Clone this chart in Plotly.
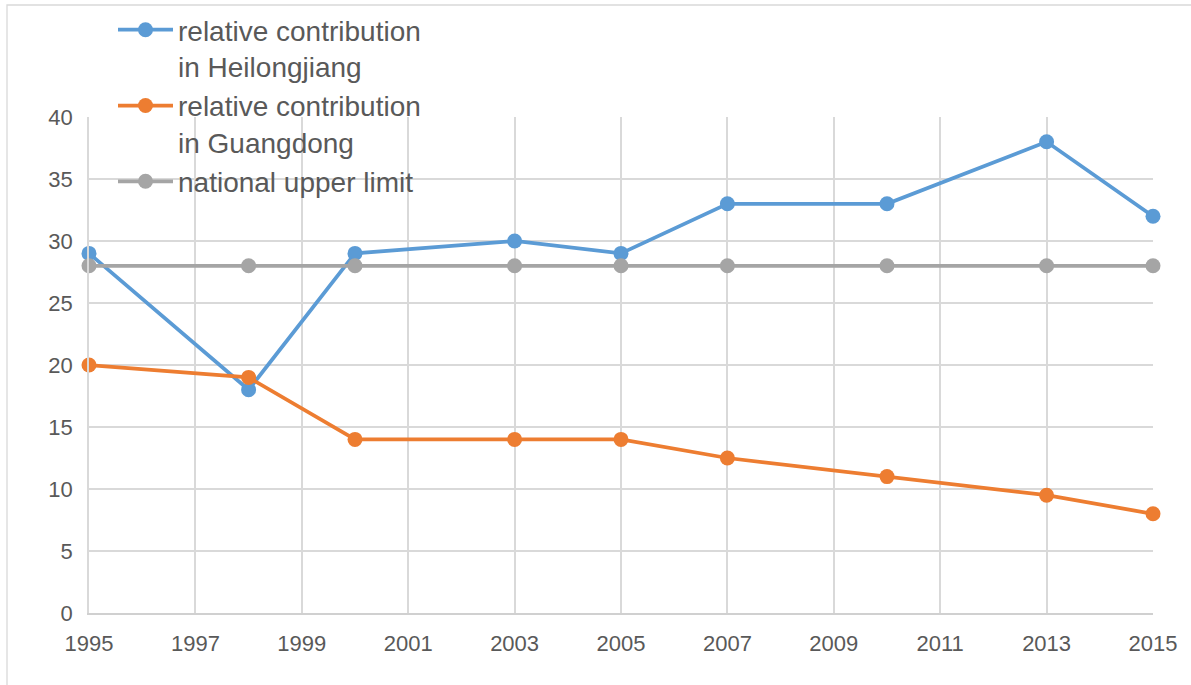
import plotly.graph_objects as go

years = [1995, 1998, 2000, 2003, 2005, 2007, 2010, 2013, 2015]
heilongjiang = [29, 18, 29, 30, 29, 33, 33, 38, 32]
guangdong = [20, 19, 14, 14, 14, 12.5, 11, 9.5, 8]
national = [28, 28, 28, 28, 28, 28, 28, 28, 28]

names = ["relative contribution<br>in Heilongjiang",
         "relative contribution<br>in Guangdong",
         "national upper limit"]
colors = ["#5B9BD5", "#ED7D31", "#A5A5A5"]
series = [heilongjiang, guangdong, national]

FONT = "Liberation Sans"

fig = go.Figure()
for name, ys, c in zip(names, series, colors):
    fig.add_trace(go.Scatter(
        x=years, y=ys, name=name, mode="lines+markers",
        line=dict(color=c, width=3.75),
        marker=dict(color=c, size=15),
        cliponaxis=False,
    ))

W, H = 1191, 685
L, R, T, B = 89, 38, 117, 72
pw = W - L - R
ph = H - T - B

fig.update_layout(
    width=W, height=H,
    margin=dict(l=L, r=R, t=T, b=B, autoexpand=False),
    paper_bgcolor="white", plot_bgcolor="white",
    font=dict(family=FONT, color="#595959", size=22),
    showlegend=True,
    legend=dict(
        x=(113 - L) / pw, y=(H - B - 5) / ph, xanchor="left", yanchor="top",
        bgcolor="rgba(0,0,0,0)", font=dict(family=FONT, size=28, color="#595959"),
        itemwidth=55, valign="top", tracegroupgap=0,
    ),
    xaxis=dict(
        range=[1995, 2015], tick0=1995, dtick=2, showgrid=True,
        gridcolor="#D9D9D9", gridwidth=1.5, zeroline=False,
        showline=True, linecolor="#D0D0D0", linewidth=1.5,
        ticks="", tickfont=dict(size=22, color="#595959"), ticklabelstandoff=10,
    ),
    yaxis=dict(
        range=[0, 40], tick0=0, dtick=5, showgrid=True,
        gridcolor="#D9D9D9", gridwidth=1.5, zeroline=False,
        showline=True, linecolor="#D9D9D9", linewidth=1.5,
        ticks="", tickfont=dict(size=22, color="#595959"), ticklabelstandoff=10,
    ),
    shapes=[dict(
        type="rect", xref="paper", yref="paper",
        x0=(7 - L) / pw, x1=(W + 20 - L) / pw,
        y0=-(B + 20) / ph, y1=(H - B - 5) / ph,
        line=dict(color="#D9D9D9", width=1.3), fillcolor="rgba(0,0,0,0)", layer="below",
    )],
)

fig.write_html("out.html")
